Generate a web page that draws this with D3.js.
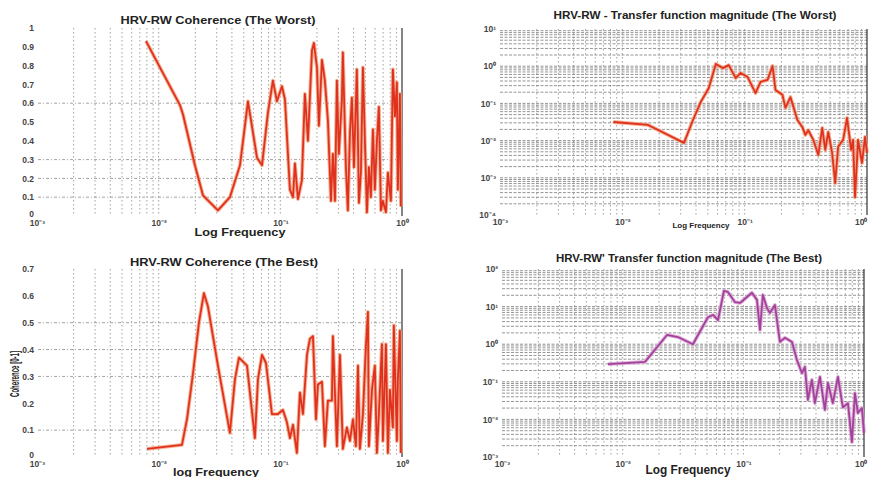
<!DOCTYPE html>
<html><head><meta charset="utf-8">
<script src="https://cdn.jsdelivr.net/npm/d3@7"></script>
<style>body{margin:0;background:#fff}svg{display:block}</style>
</head><body><svg id="c" width="869" height="477"></svg>
<script>
// ---------- DATA ----------
const worstCohFreq = [0.00787,0.01496,0.01585,0.01986,0.02312,0.0307,0.0385,0.0466,0.0542,0.0643,0.0707,0.0791,0.0869,0.0938,0.1031,0.1091,0.1199,0.1271,0.1318,0.1396,0.1503,0.1592,0.1687,0.1820,0.1888,0.2000,0.2075,0.2198,0.2323,0.2460,0.2606,0.2704,0.2812,0.2917,0.3027,0.3206,0.3266,0.3459,0.3589,0.3733,0.3873,0.4027,0.4256,0.4426,0.4592,0.4775,0.4955,0.5152,0.5346,0.5546,0.5768,0.5984,0.6223,0.6457,0.6714,0.6966,0.7379,0.7656,0.8110,0.8414,0.8750,0.9078,0.9247,0.9616,0.9795];
const worstCohVal = [0.93,0.59,0.54,0.27,0.11,0.03,0.10,0.27,0.61,0.31,0.27,0.55,0.72,0.61,0.69,0.62,0.14,0.10,0.28,0.09,0.19,0.65,0.40,0.88,0.92,0.79,0.48,0.83,0.72,0.51,0.08,0.33,0.08,0.72,0.33,0.62,0.87,0.26,0.03,0.44,0.63,0.26,0.78,0.07,0.23,0.79,0.40,0.02,0.26,0.10,0.46,0.14,0.40,0.58,0.03,0.08,0.02,0.23,0.08,0.78,0.53,0.71,0.14,0.65,0.05];

const bestCohFreq = [0.00802,0.01554,0.01708,0.01914,0.02143,0.02355,0.02541,0.0307,0.0385,0.0424,0.0457,0.0532,0.0618,0.0655,0.0707,0.0762,0.0853,0.0955,0.1050,0.1132,0.1199,0.1271,0.1368,0.1449,0.1535,0.1656,0.1750,0.1854,0.1963,0.2037,0.2198,0.2323,0.2460,0.2655,0.2704,0.2917,0.3090,0.3266,0.3524,0.3733,0.3954,0.4178,0.4345,0.4508,0.4775,0.5047,0.5248,0.5346,0.5662,0.5984,0.6223,0.6457,0.6839,0.6966,0.7379,0.7656,0.7962,0.8414,0.8570,0.9078,0.9247,0.9616,0.9795];
const bestCohVal = [0.03,0.045,0.14,0.31,0.50,0.61,0.56,0.34,0.09,0.29,0.37,0.34,0.07,0.29,0.38,0.35,0.16,0.16,0.175,0.13,0.07,0.12,0.015,0.24,0.16,0.38,0.44,0.45,0.14,0.27,0.28,0.04,0.21,0.21,0.45,0.04,0.38,0.03,0.11,0.06,0.14,0.04,0.34,0.03,0.16,0.41,0.54,0.04,0.25,0.34,0.015,0.16,0.42,0.06,0.42,0.015,0.25,0.11,0.49,0.06,0.29,0.47,0.015];

const worstTfFreq = [0.00845,0.01625,0.0319,0.0378,0.0438,0.0509,0.0581,0.0662,0.0741,0.0845,0.0927,0.1057,0.1227,0.1349,0.1538,0.1690,0.1786,0.2037,0.2153,0.2366,0.2698,0.2965,0.3133,0.3311,0.3639,0.3999,0.4305,0.4560,0.4819,0.5188,0.5495,0.5808,0.6383,0.6871,0.7413,0.7691,0.7980,0.8453,0.9099,0.9638,1.0];
const worstTfVal = [0.0316,0.0263,0.0087,0.0358,0.110,0.26,1.15,0.89,1.07,0.48,0.66,0.51,0.19,0.38,0.43,1.01,0.23,0.17,0.076,0.148,0.036,0.023,0.0142,0.019,0.0105,0.0041,0.0219,0.0056,0.017,0.0047,0.00072,0.0068,0.0105,0.041,0.0056,0.0105,0.0003,0.0105,0.0025,0.0126,0.0047];

const bestTfFreq = [0.00755,0.01531,0.0233,0.0287,0.0382,0.0509,0.0560,0.0617,0.0690,0.0745,0.0851,0.0938,0.1178,0.1297,0.1374,0.1452,0.1570,0.1660,0.1828,0.2009,0.2213,0.2530,0.2780,0.3062,0.3236,0.3428,0.3698,0.3917,0.4315,0.4742,0.5023,0.5521,0.6081,0.6683,0.7362,0.7943,0.8414,0.8892,0.9616,1.0];
const bestTfVal = [0.295,0.34,1.76,1.55,1.0,5.2,6.0,4.4,26,24.5,13.2,12.5,23.4,15.1,2.4,20.4,9.1,6.8,11,1.15,1.48,1.15,0.38,0.17,0.25,0.033,0.112,0.027,0.135,0.018,0.093,0.027,0.135,0.021,0.027,0.0025,0.05,0.0148,0.02,0.0044];

const titles = ["HRV-RW Coherence (The Worst)", "HRV-RW  - Transfer function magnitude (The Worst)", "HRV-RW Coherence (The Best)", "HRV-RW' Transfer function magnitude (The Best)"];
const xLabels = ["Log Frequency", "Log Frequency", "log Frequency", "Log Frequency"];
const yLabelBest = "Coherence [0-1]";

const xTickValues = [0.001, 0.01, 0.1, 1];
const xTickLabels = ["10⁻³", "10⁻²", "10⁻¹", "10⁰"];

const worstCohYTicks = [0,0.1,0.2,0.3,0.4,0.5,0.6,0.7,0.8,0.9,1];
const worstCohYLabels = ["0","0.1","0.2","0.3","0.4","0.5","0.6","0.7","0.8","0.9","1"];
const bestCohYTicks = [0,0.1,0.2,0.3,0.4,0.5,0.6,0.7];
const bestCohYLabels = ["0","0.1","0.2","0.3","0.4","0.5","0.6","0.7"];
const worstTfYTicks = [1e-4,1e-3,1e-2,1e-1,1,10];
const worstTfYLabels = ["10⁻⁴","10⁻³","10⁻²","10⁻¹","10⁰","10¹"];
const bestTfYTicks = [1e-3,1e-2,1e-1,1,10,100];
const bestTfYLabels = ["10⁻³","10⁻²","10⁻¹","10⁰","10¹","10²"];

// ---------- DRAW ----------
const svg = d3.select("#c");
const FONT = "'Liberation Sans', Arial, sans-serif";

function panel(p) {
  const g = svg.append("g");
  const x = d3.scaleLog().domain([1e-3, 1]).range([p.x0, p.x1]);
  const y = (p.log ? d3.scaleLog() : d3.scaleLinear()).domain(p.yDomain).range([p.y1, p.y0]);

  // vertical grid at log minor ticks
  const vt = x.ticks().filter(v => v > 1.0001e-3 && v < 0.9999);
  g.selectAll(".vg").data(vt).join("line")
    .attr("x1", d => x(d)).attr("x2", d => x(d))
    .attr("y1", p.y0).attr("y2", p.y1)
    .attr("stroke", "#8a8a8a").attr("stroke-width", 0.8)
    .attr("stroke-dasharray", "1.5,2.5");

  // horizontal grid
  const ht = p.log ? y.ticks().filter(v => v > p.yDomain[0] * 1.0001 && v < p.yDomain[1] * 0.9999) : p.gridY;
  g.selectAll(".hg").data(ht).join("line")
    .attr("x1", p.gx0).attr("x2", p.x1)
    .attr("y1", d => y(d)).attr("y2", d => y(d))
    .attr("stroke", p.log ? "#7a7a7a" : "#8a8a8a").attr("stroke-width", 0.8)
    .attr("stroke-dasharray", p.log ? "3,1.5" : "3,2,1,2");

  // right border
  g.append("line").attr("x1", p.x1).attr("x2", p.x1).attr("y1", p.y0).attr("y2", p.y1)
    .attr("stroke", "#333").attr("stroke-width", 1.2);

  // y axis labels
  const ya = d3.axisLeft(y).tickValues(p.yTicks)
    .tickFormat(d => p.yLabels[p.yTicks.indexOf(d)]).tickSize(0).tickPadding(p.yPad);
  const yg = g.append("g").attr("transform", `translate(${p.x0},0)`).call(ya);
  yg.select(".domain").remove();
  yg.selectAll("text").attr("font-family", FONT).attr("font-size", 8.5).attr("font-weight", "bold").attr("fill", "#444");
  if (!p.log) yg.selectAll(".tick").filter(d => d === 0).select("text").attr("dy", "0.1em");

  // x axis labels
  const xa = d3.axisBottom(x).tickValues(xTickValues)
    .tickFormat(d => xTickLabels[xTickValues.indexOf(d)]).tickSize(0).tickPadding(4);
  const xg = g.append("g").attr("transform", `translate(0,${p.y1})`).call(xa);
  xg.select(".domain").remove();
  xg.selectAll("text").attr("font-family", FONT).attr("font-size", 8.5).attr("font-weight", "bold").attr("fill", "#444");
  if (p.x1 > 860) xg.selectAll(".tick").filter(d => d === 1).select("text")
    .attr("text-anchor", "end").attr("dx", `${867 - p.x1}px`);

  // series line
  const pts = d3.zip(p.freq, p.val);
  const line = d3.line().x(d => x(d[0])).y(d => y(d[1]));
  g.append("path").datum(pts).attr("d", line).attr("fill", "none")
    .attr("stroke", p.halo).attr("stroke-width", 3.8).attr("stroke-linejoin", "round").attr("opacity", 0.8);
  g.append("path").datum(pts).attr("d", line).attr("fill", "none")
    .attr("stroke", p.color).attr("stroke-width", 1.8).attr("stroke-linejoin", "round");

  // title
  g.append("text").attr("x", p.tx).attr("y", p.ty).attr("text-anchor", "middle")
    .attr("font-family", FONT).attr("font-weight", "bold").attr("font-size", p.tfs)
    .attr("textLength", p.tw).attr("lengthAdjust", "spacingAndGlyphs")
    .attr("fill", "#222").text(p.title);

  // x label
  g.append("text").attr("x", p.lx).attr("y", p.ly).attr("text-anchor", "middle")
    .attr("font-family", FONT).attr("font-weight", "bold").attr("font-size", p.lfs)
    .attr("textLength", p.lw).attr("lengthAdjust", "spacingAndGlyphs")
    .attr("fill", "#222").text(p.xLabel);
  return {x, y, g};
}

panel({x0: 37, x1: 402, y0: 28, y1: 216, gx0: 38, yDomain: [0, 1], log: false,
  gridY: [0.1, 0.2, 0.3, 0.6], yTicks: worstCohYTicks, yLabels: worstCohYLabels, yPad: 3,
  freq: worstCohFreq, val: worstCohVal, color: "#e0301e", halo: "#f2a07c",
  title: titles[0], tx: 218, ty: 24, tfs: 11.5, tw: 195,
  xLabel: xLabels[0], lx: 240, ly: 236, lfs: 11.5, lw: 91});

panel({x0: 500, x1: 867, y0: 29, y1: 215, gx0: 500, yDomain: [1e-4, 10], log: true,
  yTicks: worstTfYTicks, yLabels: worstTfYLabels, yPad: 4,
  freq: worstTfFreq, val: worstTfVal, color: "#e0301e", halo: "#f2a07c",
  title: titles[1], tx: 695, ty: 19, tfs: 10.5, tw: 283,
  xLabel: xLabels[1], lx: 701, ly: 228, lfs: 8, lw: 57});

panel({x0: 37, x1: 402, y0: 269, y1: 457, gx0: 38, yDomain: [0, 0.7], log: false,
  gridY: [0.1, 0.3, 0.4, 0.5], yTicks: bestCohYTicks, yLabels: bestCohYLabels, yPad: 3,
  freq: bestCohFreq, val: bestCohVal, color: "#e0301e", halo: "#f2a07c",
  title: titles[2], tx: 224, ty: 266, tfs: 11.5, tw: 188,
  xLabel: xLabels[2], lx: 216, ly: 476, lfs: 11.5, lw: 86});

panel({x0: 502, x1: 864, y0: 269, y1: 457, gx0: 502, yDomain: [1e-3, 100], log: true,
  yTicks: bestTfYTicks, yLabels: bestTfYLabels, yPad: 4,
  freq: bestTfFreq, val: bestTfVal, color: "#a3409a", halo: "#d8a0d2",
  title: titles[3], tx: 689, ty: 262, tfs: 10.5, tw: 266,
  xLabel: xLabels[3], lx: 688, ly: 474, lfs: 12, lw: 85});

// y label for best coherence
svg.append("text").attr("transform", "translate(19,374) rotate(-90)")
  .attr("text-anchor", "middle").attr("font-family", FONT).attr("font-weight", "bold")
  .attr("font-size", 13).attr("textLength", 46).attr("lengthAdjust", "spacingAndGlyphs")
  .attr("fill", "#222").text(yLabelBest);
</script>
</body></html>
